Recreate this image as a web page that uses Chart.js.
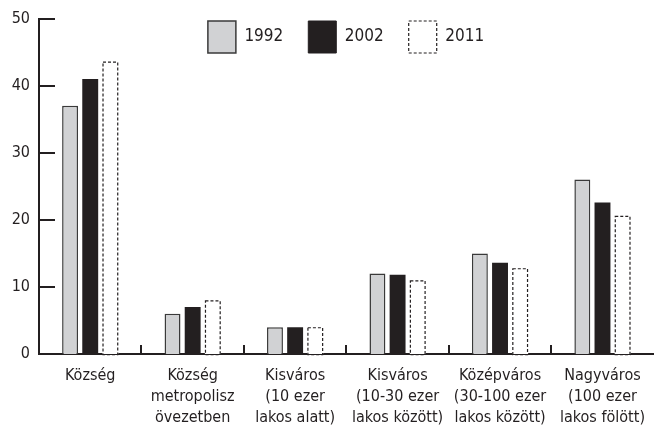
<!DOCTYPE html>
<html>
<head>
<meta charset="utf-8">
<script src="https://cdn.jsdelivr.net/npm/chart.js@4/dist/chart.umd.min.js"></script>
<style>
  html, body { margin: 0; padding: 0; background: #fff; }
  #wrap { width: 656px; height: 426px; }
</style>
</head>
<body>
<div id="wrap"><canvas id="chart" width="656" height="426"></canvas></div>
<script>
const categories = [
    ['Község'],
    ['Község', 'metropolisz', 'övezetben'],
    ['Kisváros', '(10 ezer', 'lakos alatt)'],
    ['Kisváros', '(10-30 ezer', 'lakos között)'],
    ['Középváros', '(30-100 ezer', 'lakos között)'],
    ['Nagyváros', '(100 ezer', 'lakos fölött)']
];
const years = ['1992', '2002', '2011'];
const values1992 = [37, 6, 4, 12, 15, 26];
const values2002 = [41, 7, 4, 11.8, 13.6, 22.6];
const values2011 = [43.6, 8, 4, 11, 12.8, 20.6];
const yMin = 0;
const yMax = 50;
const yStep = 10;

const ink = '#231f20';
Chart.defaults.font.family = "'Liberation Sans Narrow', 'DejaVu Sans Condensed', 'Arial Narrow', sans-serif";
Chart.defaults.font.size = 16;
Chart.defaults.color = ink;

// inward ticks on both axes + dashed outline for the 2011 bars
const axisMarks = {
    id: 'axisMarks',
    afterLayout(chart) {
        // legend sits inside the plot, over the top of the y axis
        const lg = chart.legend;
        lg.top = 16 - 20;
        lg.bottom = lg.top + 80;
        lg.height = 80;
        lg.left += 17;
        lg.right += 17;
    },
    afterDatasetsDraw(chart) {
        const ctx = chart.ctx;
        const meta = chart.getDatasetMeta(2);
        ctx.save();
        ctx.strokeStyle = ink;
        ctx.lineWidth = 1.2;
        ctx.setLineDash([3, 2]);
        meta.data.forEach(bar => {
            const p = bar.getProps(['x', 'y', 'base', 'width'], true);
            ctx.strokeRect(p.x - p.width / 2 + 0.6, p.y + 0.6, p.width - 1.2, p.base - p.y);
        });
        ctx.restore();
    },
    afterDraw(chart) {
        const ctx = chart.ctx;
        const area = chart.chartArea;
        const ys = chart.scales.y;
        const xs = chart.scales.x;
        ctx.save();
        ctx.strokeStyle = ink;
        ctx.lineWidth = 2;
        for (let v = yMin; v <= yMax; v += yStep) {
            const y = Math.round(ys.getPixelForValue(v));
            ctx.beginPath();
            ctx.moveTo(area.left, y);
            ctx.lineTo(area.left + 16, y);
            ctx.stroke();
        }
        for (let i = 1; i < categories.length; i++) {
            const x = Math.round((xs.getPixelForValue(i - 1) + xs.getPixelForValue(i)) / 2);
            ctx.beginPath();
            ctx.moveTo(x, area.bottom);
            ctx.lineTo(x, area.bottom - 9);
            ctx.stroke();
        }
        ctx.restore();
    }
};

new Chart(document.getElementById('chart'), {
    type: 'bar',
    data: {
        labels: categories,
        datasets: [
            {
                label: years[0],
                data: values1992,
                backgroundColor: '#d1d2d4',
                borderColor: '#3a3a3a',
                borderWidth: 1.5
            },
            {
                label: years[1],
                data: values2002,
                backgroundColor: ink,
                borderColor: ink,
                borderWidth: 0
            },
            {
                label: years[2],
                data: values2011,
                backgroundColor: '#ffffff',
                borderWidth: 0
            }
        ]
    },
    options: {
        responsive: false,
        animation: false,
        layout: { padding: { top: 16, right: -2, left: 0, bottom: 0 } },
        datasets: {
            bar: { categoryPercentage: 0.59, barPercentage: 0.79 }
        },
        plugins: {
            tooltip: { enabled: false },
            legend: {
                position: 'top',
                maxHeight: 0.01,
                labels: {
                    boxWidth: 28,
                    boxHeight: 32,
                    padding: 25,
                    color: ink,
                    font: { size: 17 },
                    generateLabels(chart) {
                        const items = Chart.defaults.plugins.legend.labels.generateLabels(chart);
                        items[0].lineWidth = 1.5;
                        items[0].strokeStyle = '#3a3a3a';
                        items[1].lineWidth = 1;
                        items[1].strokeStyle = ink;
                        items[2].lineWidth = 1.2;
                        items[2].strokeStyle = ink;
                        items[2].fillStyle = '#ffffff';
                        items[2].lineDash = [3, 2];
                        return items;
                    }
                }
            }
        },
        scales: {
            x: {
                grid: { display: false, drawTicks: false },
                border: { display: true, color: ink, width: 2 },
                ticks: {
                    padding: 11,
                    maxRotation: 0,
                    autoSkip: false,
                    font: { lineHeight: 1.31 }
                },
                afterFit(scale) { scale.height = 72; }
            },
            y: {
                min: yMin,
                max: yMax,
                grid: { display: false, drawTicks: false },
                border: { display: true, color: ink, width: 2 },
                ticks: { stepSize: yStep, padding: 9 },
                afterFit(scale) { scale.width = 39; }
            }
        }
    },
    plugins: [axisMarks]
});
</script>
</body>
</html>
